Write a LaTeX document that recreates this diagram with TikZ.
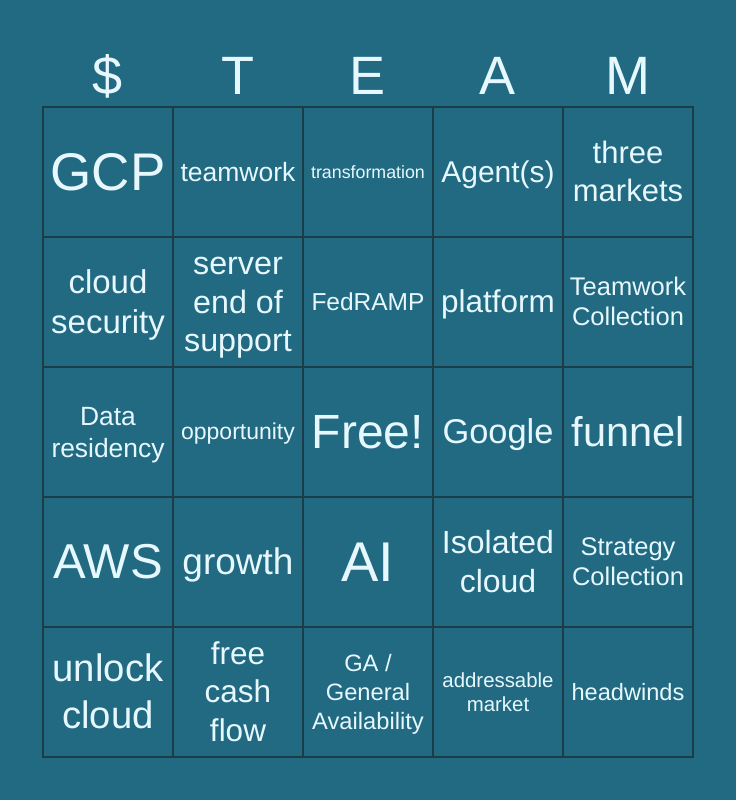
\documentclass[tikz,border=0pt]{standalone}
\usepackage{fontspec}
\setmainfont{Liberation Sans}
\definecolor{cardbg}{HTML}{216A82}
\definecolor{cardtext}{HTML}{E6F8FD}
\definecolor{cardline}{HTML}{1B3C49}
% strut as tall as one line box
\newcommand\cs{\rule[\dimexpr-0.5\baselineskip+0.3465em\relax]{0pt}{\baselineskip}}
\tikzset{
  head/.style={text=cardtext, inner sep=0pt, anchor=base, font=\fontsize{54}{62}\selectfont},
  cell/.style 2 args={draw=cardline, line width=1.2pt, text=cardtext, inner sep=0pt,
    minimum size=130pt, align=center, font=\fontsize{#1}{#2}\selectfont}
}
\begin{document}
\begin{tikzpicture}[x=1pt, y=-1pt]
  % background
  \fill[cardbg] (0,0) rectangle (736,800);
  \useasboundingbox (0,0) rectangle (736,800);

  % header letters
  \node[head] (h1) at (108,94) {\$};
  \node[head] (h2) at (238,94) {T};
  \node[head] (h3) at (368,94) {E};
  \node[head] (h4) at (498,94) {A};
  \node[head] (h5) at (628,94) {M};

  % row 1
  \node[cell={53}{62}] (c11) at (108,172) {\cs GCP\cs};
  \node[cell={26.5}{32}] (c12) at (238,172) {\cs teamwork\cs};
  \node[cell={17.8}{21}] (c13) at (368,172) {\cs transformation\cs};
  \node[cell={30}{36}] (c14) at (498,172) {\cs Agent(s)\cs};
  \node[cell={31}{38.3}] (c15) at (628,172) {\cs three\cs\\\cs markets\cs};

  % row 2
  \node[cell={33}{39.3}] (c21) at (108,302) {\cs cloud\cs\\\cs security\cs};
  \node[cell={32.3}{38.8}] (c22) at (238,302) {\cs server\cs\\\cs end of\cs\\\cs support\cs};
  \node[cell={24.5}{29}] (c23) at (368,302) {\cs FedRAMP\cs};
  \node[cell={31.5}{38}] (c24) at (498,302) {\cs platform\cs};
  \node[cell={25.5}{30}] (c25) at (628,302) {\cs Teamwork\cs\\\cs Collection\cs};

  % row 3
  \node[cell={26.4}{32}] (c31) at (108,432) {\cs Data\cs\\\cs residency\cs};
  \node[cell={23}{28}] (c32) at (238,432) {\cs opportunity\cs};
  \node[cell={48}{56}] (c33) at (368,432) {\cs Free!\cs};
  \node[cell={34.4}{41}] (c34) at (498,432) {\cs Google\cs};
  \node[cell={41.5}{50}] (c35) at (628,432) {\cs funnel\cs};

  % row 4
  \node[cell={49}{58}] (c41) at (108,562) {\cs AWS\cs};
  \node[cell={37}{44}] (c42) at (238,562) {\cs growth\cs};
  \node[cell={56}{66}] (c43) at (368,562) {\cs AI\cs};
  \node[cell={32}{39}] (c44) at (498,562) {\cs Isolated\cs\\\cs cloud\cs};
  \node[cell={25.5}{30}] (c45) at (628,562) {\cs Strategy\cs\\\cs Collection\cs};

  % row 5
  \node[cell={38.3}{47.4}] (c51) at (108,692) {\cs unlock\cs\\\cs cloud\cs};
  \node[cell={31.5}{38.3}] (c52) at (238,692) {\cs free\cs\\\cs cash\cs\\\cs flow\cs};
  \node[cell={23.7}{29}] (c53) at (368,692) {\cs GA /\cs\\\cs General\cs\\\cs Availability\cs};
  \node[cell={20.4}{24}] (c54) at (498,692) {\cs addressable\cs\\\cs market\cs};
  \node[cell={23.6}{28}] (c55) at (628,692) {\cs headwinds\cs};
\end{tikzpicture}
\end{document}
